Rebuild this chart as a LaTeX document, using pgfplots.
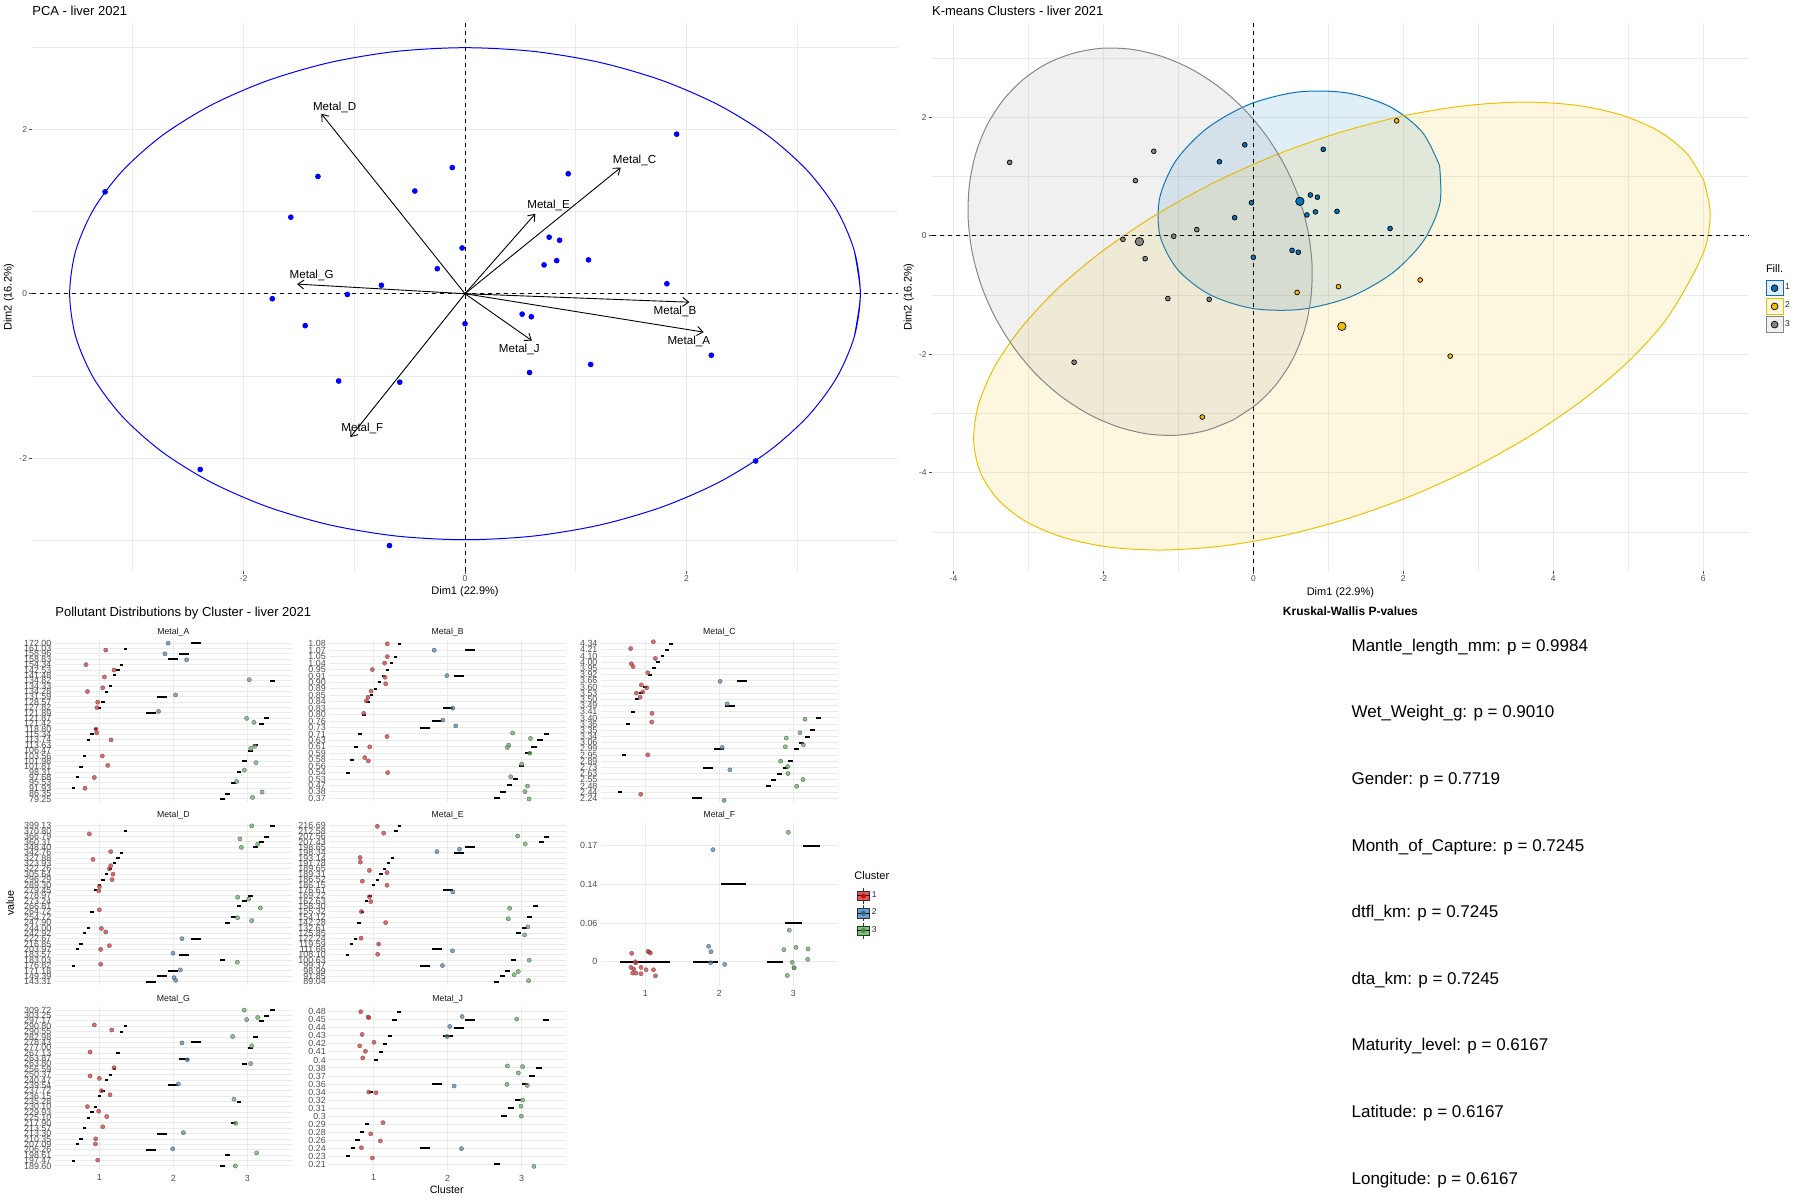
\documentclass[border=0pt]{standalone}
\usepackage{fontspec}
\setmainfont{Liberation Sans}
\usepackage{pgfplots}
\pgfplotsset{compat=1.18}
\usetikzlibrary{arrows.meta}
\newcommand{\fs}[1]{\fontsize{#1}{#1}\selectfont}
\definecolor{pcablue}{HTML}{0000FF}
\definecolor{kblue}{HTML}{0073C2}
\definecolor{kyellow}{HTML}{EFC000}
\definecolor{kgrey}{HTML}{868686}
\definecolor{sred}{HTML}{E41A1C}
\definecolor{sblue}{HTML}{377EB8}
\definecolor{sgreen}{HTML}{4DAF4A}
\definecolor{gridc}{HTML}{EBEBEB}
\definecolor{tickc}{HTML}{4D4D4D}
\tikzset{albl/.style={font=\fs{5.8}, inner sep=0pt},
  strip/.style={font=\fs{4.35}, text=black!90, inner sep=0pt},
  arr/.style={black, line width=0.45pt, -{Straight Barb[length=3pt,width=4.5pt]}}}
\pgfplotsset{
  /pgf/number format/assume math mode=true,
  base/.style={scale only axis, anchor=south west, axis line style={draw=none},
    major grid style={gridc, line width=0.5pt}, minor grid style={gridc, line width=0.3pt},
    ticklabel style={text=tickc}},
  big/.style={base, height=274pt, grid=both, tick pos=left, tick align=outside,
    major tick length=1.5pt, minor tick length=0pt, tick style={tickc, line width=0.4pt},
    ticklabel style={font=\fs{4.25}, inner sep=0.8pt}},
  facet/.style={base, width=118.35pt, height=81.15pt, xmin=0.4, xmax=3.6, ymin=0.4,
    xtick={1,2,3}, xticklabels={,,}, grid=major, major tick length=0pt, tick pos=left,
    yticklabel style={font=\fs{4.45}, inner sep=0pt, xshift=-1.6pt},
    xticklabel style={font=\fs{4.45}, inner sep=0pt, yshift=-2.6pt}},
  fpts/.style={scatter, only marks, mark=*, mark size=1.05pt, line width=0.2pt,
    scatter src=explicit symbolic,
    scatter/classes={1={draw=black!60, fill=sred, fill opacity=0.68},
                     2={draw=black!60, fill=sblue, fill opacity=0.68},
                     3={draw=black!60, fill=sgreen, fill opacity=0.68}}},
  fbar/.style={only marks, mark=*, mark size=0.1pt, mark options={draw opacity=0, fill opacity=0},
    error bars/x dir=both, error bars/x explicit,
    error bars/error mark=none, error bars/error bar style={line width=1pt, black}},
  kpts/.style={only marks, mark=*, mark size=1.2pt, forget plot, mark options={draw=black, line width=0.35pt, fill=#1}},
  kell/.style={#1, line width=0.5pt, fill=#1, fill opacity=0.12, smooth, forget plot},
}
\begin{document}
\begin{tikzpicture}
\useasboundingbox (0,0) rectangle (900pt,-600pt);

% ---------------- PCA ----------------
\begin{axis}[big, at={(16pt,-285.5pt)}, width=433pt,
  xmin=-3.91, xmax=3.91, ymin=-3.37, ymax=3.29,
  xtick={-2,0,2}, ytick={-2,0,2}, minor xtick={-3,-1,1,3}, minor ytick={-3,-1,1,3}]
\addplot[pcablue, line width=0.5pt, smooth] coordinates {(3.516,-0.519) (3.57,0) (3.516,0.519) (3.355,1.023) (3.092,1.495) (2.735,1.922) (2.295,2.290) (1.785,2.589) (1.221,2.810) (0.620,2.945) (0,2.99) (-0.620,2.945) (-1.221,2.810) (-1.785,2.589) (-2.295,2.290) (-2.735,1.922) (-3.092,1.495) (-3.355,1.023) (-3.516,0.519) (-3.57,0) (-3.516,-0.519) (-3.355,-1.023) (-3.092,-1.495) (-2.735,-1.922) (-2.295,-2.290) (-1.785,-2.589) (-1.221,-2.810) (-0.620,-2.945) (0,-2.99) (0.620,-2.945) (1.221,-2.810) (1.785,-2.589) (2.295,-2.290) (2.735,-1.922) (3.092,-1.495) (3.355,-1.023) (3.516,-0.519) (3.57,0) (3.516,0.519)};
\addplot[black, line width=0.5pt, dash pattern=on 2pt off 2pt] coordinates {(-3.91,0) (3.91,0)};
\addplot[black, line width=0.5pt, dash pattern=on 2pt off 2pt] coordinates {(0,-3.37) (0,3.29)};
\addplot[only marks, mark=*, mark size=1.2pt, pcablue] table {
x y
1.911 1.939
-3.25 1.238
-1.328 1.425
-0.115 1.533
-0.453 1.248
0.932 1.458
-1.573 0.930
0.760 0.687
0.854 0.650
-0.026 0.556
-0.25 0.304
0.714 0.350
0.828 0.402
1.115 0.411
1.823 0.121
-0.755 0.103
-1.0625 -0.009
-1.740 -0.061
-1.443 -0.388
0 -0.364
0.516 -0.248
0.599 -0.280
2.224 -0.748
1.135 -0.860
0.583 -0.958
-1.141 -1.061
-0.589 -1.075
2.625 -2.033
-2.391 -2.136
-0.682 -3.061
};
\addplot[arr] coordinates {(0,0) (-1.297,2.187)};
\addplot[arr] coordinates {(0,0) (1.406,1.533)};
\addplot[arr] coordinates {(0,0) (0.635,0.972)};
\addplot[arr] coordinates {(0,0) (-1.516,0.117)};
\addplot[arr] coordinates {(0,0) (2.026,-0.103)};
\addplot[arr] coordinates {(0,0) (2.156,-0.467)};
\addplot[arr] coordinates {(0,0) (0.604,-0.570)};
\addplot[arr] coordinates {(0,0) (-1.036,-1.743)};
\node[albl] at (axis cs:-1.177,2.266) {Metal\_D};
\node[albl] at (axis cs:1.531,1.621) {Metal\_C};
\node[albl] at (axis cs:0.755,1.070) {Metal\_E};
\node[albl] at (axis cs:-1.385,0.220) {Metal\_G};
\node[albl] at (axis cs:1.896,-0.220) {Metal\_B};
\node[albl] at (axis cs:2.021,-0.584) {Metal\_A};
\node[albl] at (axis cs:0.490,-0.673) {Metal\_J};
\node[albl] at (axis cs:-0.927,-1.636) {Metal\_F};
\end{axis}

% ---------------- K-means ----------------
\begin{axis}[big, at={(465.85pt,-285.5pt)}, width=408.65pt,
  xmin=-4.29, xmax=6.61, ymin=-5.66, ymax=3.59,
  xtick={-4,-2,0,2,4,6}, ytick={-4,-2,0,2}, minor xtick={-3,-1,1,3,5}, minor ytick={-5,-3,-1,1,3},
  legend style={at={(axis description cs:1.0203,0.531)}, anchor=north west, draw=none, fill=none,
    inner sep=0pt, outer sep=0pt, row sep=0.9pt, column sep=0pt, font=\fs{4.25},
    nodes={inner sep=0.8pt, text=black!85}}, legend cell align=left]
\addplot[kell=kblue] coordinates {(2.483,1.184) (2.488,0.547) (2.271,-0.084) (1.852,-0.633) (1.285,-1.037) (0.637,-1.243) (-0.012,-1.228) (-0.585,-0.993) (-1.013,-0.568) (-1.245,0.0) (-1.250,0.635) (-1.033,1.267) (-0.615,1.816) (-0.048,2.220) (0.600,2.426) (1.249,2.410) (1.823,2.176) (2.251,1.750) (2.483,1.184)};
\addplot[kell=kyellow] coordinates {(6.006,0.932) (6.093,0.397) (6.027,-0.199) (5.788,-0.833) (5.462,-1.488) (4.982,-2.147) (4.383,-2.782) (3.687,-3.383) (2.915,-3.927) (2.093,-4.399) (1.241,-4.782) (0.386,-5.066) (-0.443,-5.242) (-1.223,-5.306) (-1.930,-5.255) (-2.542,-5.090) (-3.042,-4.818) (-3.414,-4.444) (-3.645,-3.983) (-3.731,-3.448) (-3.666,-2.851) (-3.454,-2.218) (-3.101,-1.563) (-2.620,-0.904) (-2.022,-0.269) (-1.326,0.333) (-0.554,0.877) (0.269,1.348) (1.121,1.731) (1.975,2.015) (2.805,2.191) (3.585,2.255) (4.291,2.204) (4.903,2.039) (5.403,1.767) (5.776,1.394) (6.006,0.932)};
\addplot[kell=kgrey] coordinates {(-0.270,-3.110) (0.047,-2.841) (0.316,-2.492) (0.531,-2.068) (0.683,-1.583) (0.767,-1.056) (0.783,-0.497) (0.729,0.073) (0.608,0.637) (0.421,1.177) (0.176,1.681) (-0.119,2.130) (-0.457,2.510) (-0.828,2.813) (-1.219,3.025) (-1.619,3.145) (-2.016,3.164) (-2.396,3.081) (-2.751,2.907) (-3.068,2.639) (-3.337,2.289) (-3.552,1.865) (-3.704,1.380) (-3.788,0.853) (-3.804,0.294) (-3.751,-0.275) (-3.629,-0.840) (-3.443,-1.380) (-3.197,-1.883) (-2.903,-2.333) (-2.564,-2.713) (-2.193,-3.015) (-1.803,-3.228) (-1.403,-3.348) (-1.006,-3.367) (-0.617,-3.284) (-0.270,-3.110)};
\addplot[black, line width=0.5pt, dash pattern=on 2pt off 2pt, forget plot] coordinates {(-4.29,0) (6.61,0)};
\addplot[black, line width=0.5pt, dash pattern=on 2pt off 2pt, forget plot] coordinates {(0,-5.66) (0,3.59)};
\addplot[kpts=kblue] table {
x y
-0.115 1.533
-0.453 1.248
0.932 1.458
0.760 0.687
0.854 0.650
-0.026 0.556
-0.25 0.304
0.714 0.350
0.828 0.402
1.115 0.411
1.823 0.121
0 -0.364
0.516 -0.248
0.599 -0.280
};
\addplot[kpts=kyellow] table {
x y
1.911 1.939
2.224 -0.748
1.135 -0.860
0.583 -0.958
2.625 -2.033
-0.682 -3.061
};
\addplot[kpts=kgrey] table {
x y
-3.25 1.238
-1.328 1.425
-1.573 0.930
-0.755 0.103
-1.0625 -0.009
-1.740 -0.061
-1.443 -0.388
-1.141 -1.061
-0.589 -1.075
-2.391 -2.136
};
\addplot[kpts=kblue, mark size=2.1pt] coordinates {(0.62,0.58)};
\addplot[kpts=kyellow, mark size=2.1pt] coordinates {(1.18,-1.53)};
\addplot[kpts=kgrey, mark size=2.1pt] coordinates {(-1.52,-0.10)};
\addlegendimage{legend image code/.code={\draw[kblue, line width=0.5pt, fill=kblue!12] (0pt,-3.85pt) rectangle (8.5pt,3.85pt); \draw[black, line width=0.35pt, fill=kblue] (4.25pt,0pt) circle (1.7pt);}}
\addlegendentry{1}
\addlegendimage{legend image code/.code={\draw[kyellow, line width=0.5pt, fill=kyellow!12] (0pt,-3.85pt) rectangle (8.5pt,3.85pt); \draw[black, line width=0.35pt, fill=kyellow] (4.25pt,0pt) circle (1.7pt);}}
\addlegendentry{2}
\addlegendimage{legend image code/.code={\draw[kgrey, line width=0.5pt, fill=kgrey!12] (0pt,-3.85pt) rectangle (8.5pt,3.85pt); \draw[black, line width=0.35pt, fill=kgrey] (4.25pt,0pt) circle (1.7pt);}}
\addlegendentry{3}
\end{axis}

% ---------------- Metal_A ----------------
\begin{axis}[facet, at={(27.5pt,-401.1pt)}, ymax=30.6, ytick={1,...,30},
  yticklabels={79.25,86.35,91.93,95.53,97.68,98.31,101.81,101.98,103.56,106.47,113.63,113.74,115.34,118.80,121.42,121.87,121.89,127.82,128.57,131.59,134.28,134.33,134.82,141.48,142.53,154.34,158.83,158.96,161.03,172.00}]
\addplot[fbar] table[x=x,y=y,x error=e] {
x y e
0.65 3 0.0225
0.70 5 0.0225
0.75 7 0.0225
0.80 9 0.0225
0.85 12 0.0225
0.90 13 0.0225
0.95 14 0.0225
1.00 18 0.0225
1.05 19 0.0225
1.10 21 0.0225
1.15 22 0.0225
1.20 24 0.0225
1.25 25 0.0225
1.30 26 0.0225
1.35 29 0.0225
1.70 17 0.0675
1.85 20 0.0675
2.00 27 0.0675
2.15 28 0.0675
2.30 30 0.0675
2.6625 1 0.03375
2.7375 2 0.03375
2.8125 4 0.03375
2.8875 6 0.03375
2.9625 8 0.03375
3.0375 10 0.03375
3.1125 11 0.03375
3.1875 15 0.03375
3.2625 16 0.03375
3.3375 23 0.03375
};
\addplot[fpts] table[x=x,y=y,meta=c] {
x y c
1.93 30 2
1.086 28.7 1
1.887 28 2
2.18 26.9 2
0.82 26 1
1.198 25 1
1.068 23.7 1
3.027 23.2 3
1.045 21.7 1
0.838 21 1
2.03 20.37 2
0.977 19 1
0.968 18 1
1.80 17.3 2
2.99 16 3
3.09 15.25 3
0.955 14 1
0.964 13.3 1
1.158 12 1
3.10 10.8 3
3.045 10.4 3
1.04 9 1
3.117 7.75 3
1.113 7.25 1
2.96 6.37 3
0.932 5 1
2.856 4.25 3
0.806 3 1
3.20 2.3 3
3.07 1.3 3
};
\end{axis}

% ---------------- Metal_B ----------------
\begin{axis}[facet, at={(164.65pt,-401.1pt)}, ymax=25.6, ytick={1,...,25},
  yticklabels={0.37,0.38,0.47,0.53,0.54,0.56,0.58,0.59,0.61,0.63,0.71,0.73,0.76,0.80,0.83,0.84,0.85,0.89,0.90,0.91,0.95,1.04,1.05,1.07,1.08}]
\addplot[fbar] table[x=x,y=y,x error=e] {
x y e
0.6518 5 0.0241
0.7054 7 0.0241
0.7589 9 0.0241
0.8125 11 0.0241
0.8661 14 0.0241
0.9196 16 0.0241
0.9732 17 0.0241
1.0268 18 0.0241
1.0804 19 0.0241
1.1339 20 0.0241
1.1875 21 0.0241
1.2411 22 0.0241
1.2946 23 0.0241
1.3482 25 0.0241
1.70 12 0.0675
1.85 13 0.0675
2.00 15 0.0675
2.15 20 0.0675
2.30 24 0.0675
2.6667 1 0.0375
2.75 2 0.0375
2.8333 3 0.0375
2.9167 4 0.0375
3.0 6 0.0375
3.0833 8 0.0375
3.1667 9 0.0375
3.25 10 0.0375
3.3333 11 0.0375
};
\addplot[fpts] table[x=x,y=y,meta=c] {
x y c
1.184 25 1
1.818 24 2
1.184 23 1
1.148 22 1
0.982 21 1
1.989 20.05 2
1.153 19.8 1
1.162 18.8 1
0.964 17.65 1
0.924 16.7 1
0.901 16.15 1
2.07 15 2
0.865 14.2 1
1.935 13.15 2
2.11 12.25 2
2.879 11.15 3
1.18 10.6 1
3.12 10.3 3
2.825 9.25 3
2.807 8.9 3
0.946 9 1
3.11 8 3
0.879 7.33 1
0.928 6.82 1
3.0 6.3 3
1.189 5 1
2.852 4.35 3
3.08 2.9 3
3.045 2.05 3
3.10 0.9 3
};
\end{axis}

% ---------------- Metal_C ----------------
\begin{axis}[facet, at={(300.5pt,-401.1pt)}, ymax=26.6, ytick={1,...,26},
  yticklabels={2.24,2.44,2.48,2.55,2.63,2.73,2.89,2.95,2.99,3.06,3.34,3.35,3.36,3.40,3.41,3.49,3.50,3.53,3.60,3.66,3.92,3.95,4.00,4.10,4.21,4.34}]
\addplot[fbar] table[x=x,y=y,x error=e] {
x y e
0.6538 2 0.026
0.7115 8 0.026
0.7692 13 0.026
0.8269 15 0.026
0.8846 17 0.026
0.9423 18 0.026
1.0 19 0.026
1.0577 21 0.026
1.1154 22 0.026
1.1731 23 0.026
1.2308 24 0.026
1.2885 25 0.026
1.3462 26 0.026
1.70 1 0.0675
1.85 6 0.0675
2.00 9 0.0675
2.15 16 0.0675
2.30 20 0.0675
2.6625 3 0.03375
2.7375 4 0.03375
2.8125 5 0.03375
2.8875 6 0.03375
2.9625 7 0.03375
3.0375 9 0.03375
3.1125 10 0.03375
3.1875 11 0.03375
3.2625 12 0.03375
3.3375 14 0.03375
};
\addplot[fpts] table[x=x,y=y,meta=c] {
x y c
1.108 26.3 1
0.801 25.2 1
1.135 23.6 1
0.81 22.75 1
0.833 22.3 1
1.032 21.3 1
2.011 19.9 2
0.946 19.35 1
1.018 18.87 1
0.964 18.2 1
0.878 18.0 1
0.928 17.35 1
2.106 16.27 2
1.09 14.75 1
3.158 13.8 3
1.086 13.35 1
3.09 11.62 3
2.905 10.76 3
3.135 9.68 3
2.038 9.24 2
2.892 9.35 3
1.032 8.05 1
2.828 7.03 3
2.923 6.16 3
2.142 5.62 2
2.928 5.03 3
3.131 4.05 3
3.045 2.97 3
0.937 1.68 1
2.065 0.7 2
};
\end{axis}

% ---------------- Metal_D ----------------
\begin{axis}[facet, at={(27.5pt,-492.45pt)}, ymax=30.6, ytick={1,...,30},
  yticklabels={143.31,149.39,171.18,176.82,183.03,183.57,203.97,216.85,222.67,242.92,244.00,247.90,254.72,264.72,266.81,273.24,278.97,279.45,289.30,296.29,305.64,322.26,323.93,327.88,342.76,348.40,360.31,366.79,370.80,399.13}]
\addplot[fbar] table[x=x,y=y,x error=e] {
x y e
0.65 4 0.0225
0.70 7 0.0225
0.75 8 0.0225
0.80 10 0.0225
0.85 11 0.0225
0.90 14 0.0225
0.95 18 0.0225
1.00 19 0.0225
1.05 20 0.0225
1.10 21 0.0225
1.15 22 0.0225
1.20 23 0.0225
1.25 24 0.0225
1.30 25 0.0225
1.35 29 0.0225
1.70 1 0.0675
1.85 2 0.0675
2.00 3 0.0675
2.15 6 0.0675
2.30 9 0.0675
2.6625 5 0.03375
2.7375 12 0.03375
2.8125 13 0.03375
2.8875 15 0.03375
2.9625 16 0.03375
3.0375 17 0.03375
3.1125 26 0.03375
3.1875 27 0.03375
3.2625 28 0.03375
3.3375 30 0.03375
};
\addplot[fpts] table[x=x,y=y,meta=c] {
x y c
3.059 30 3
0.865 28.5 1
2.90 27.57 3
3.14 26.57 3
2.919 26 3
1.153 25.2 1
0.914 23.75 1
1.153 22.57 1
1.135 22 1
1.185 21 1
1.171 20 1
1.0 18.7 1
0.991 17.9 1
2.869 16.7 3
3.018 16.37 3
3.176 14.72 3
1.0 14.37 1
2.869 12.9 3
3.059 12.37 3
1.027 10.9 1
1.086 10.25 1
2.117 9 2
1.135 7.7 1
1.018 7 1
1.995 6.3 2
2.865 4.63 3
1.018 4.25 1
2.095 3.2 2
2.009 1.75 2
2.032 1.25 2
};
\end{axis}

% ---------------- Metal_E ----------------
\begin{axis}[facet, at={(164.65pt,-492.45pt)}, ymax=30.6, ytick={1,...,30},
  yticklabels={89.04,91.85,98.99,99.37,100.63,108.10,111.66,119.59,122.24,125.85,132.61,142.28,154.12,155.32,158.30,162.63,169.22,176.61,186.15,186.52,189.31,189.65,191.78,193.14,198.34,198.65,207.43,207.56,212.58,216.69}]
\addplot[fbar] table[x=x,y=y,x error=e] {
x y e
0.65 6 0.0225
0.70 8 0.0225
0.75 9 0.0225
0.80 12 0.0225
0.85 14 0.0225
0.90 16 0.0225
0.95 17 0.0225
1.00 19 0.0225
1.05 20 0.0225
1.10 21 0.0225
1.15 22 0.0225
1.20 23 0.0225
1.25 24 0.0225
1.30 29 0.0225
1.35 30 0.0225
1.70 4 0.0675
1.85 7 0.0675
2.00 18 0.0675
2.15 25 0.0675
2.30 26 0.0675
2.6625 1 0.03375
2.7375 2 0.03375
2.8125 3 0.03375
2.8875 5 0.03375
2.9625 10 0.03375
3.0375 11 0.03375
3.1125 13 0.03375
3.1875 15 0.03375
3.2625 27 0.03375
3.3375 28 0.03375
};
\addplot[fpts] table[x=x,y=y,meta=c] {
x y c
1.049 29.9 1
1.135 28.63 1
2.946 28.1 3
3.049 26.63 3
2.16 25.63 2
1.854 25.2 2
0.816 24.1 1
0.82 23.25 1
0.942 21.7 1
1.18 21.3 1
0.847 19.7 1
1.18 18.95 1
2.07 17.7 2
0.942 16.8 1
0.96 15.9 1
2.838 14.66 3
0.834 14.05 1
2.82 12.7 3
1.162 12 1
3.085 11.2 3
3.04 9.7 3
0.829 9.1 1
1.067 8 1
2.065 6.75 2
1.054 6.1 1
3.103 5 3
1.93 4 2
2.955 2.9 3
2.90 2.3 3
3.094 1.2 3
};
\end{axis}

% ---------------- Metal_F ----------------
\begin{axis}[facet, at={(300.5pt,-492.45pt)}, ymax=4.6, ytick={1,2,3,4},
  yticklabels={0,0.06,0.14,0.17}, xticklabels={1,2,3},
  legend style={at={(axis description cs:1.0803,0.5996)}, anchor=north west, draw=none, fill=none,
    inner sep=0pt, outer sep=0pt, row sep=0.3pt, column sep=0pt, font=\fs{4.25},
    nodes={inner sep=0.9pt, text=black!85}}, legend cell align=left]
\addplot[fbar, forget plot] table[x=x,y=y,x error=e] {
x y e
1.0 1 0.3375
1.8125 1 0.169
2.1875 3 0.169
2.75 1 0.1125
3.0 2 0.1125
3.25 4 0.1125
};
\addplot[fpts, forget plot] table[x=x,y=y,meta=c] {
x y c
0.814 1.217 1
0.864 1.0 1
0.87 0.97 1
1.036 1.269 1
1.068 1.225 1
1.05 1.25 1
0.805 0.853 1
0.842 0.809 1
0.941 0.853 1
0.828 0.705 1
0.873 0.705 1
0.941 0.688 1
1.009 0.792 1
1.109 0.792 1
1.136 0.636 1
1.914 3.90 2
1.855 1.399 2
1.887 1.26 2
1.882 0.974 2
2.072 0.931 2
2.932 4.348 3
2.946 1.815 3
2.873 1.312 3
3.036 1.373 3
3.199 1.33 3
3.195 1.061 3
2.986 0.983 3
3.009 0.844 3
3.012 0.84 3
2.919 0.644 3
};
\addlegendimage{legend image code/.code={\draw[black!80, line width=0.35pt] (3.1pt,-4pt)--(3.1pt,4pt); \draw[black!80, line width=0.35pt, fill=sred!75] (0pt,-2.3pt) rectangle (6.2pt,2.3pt); \draw[black, line width=0.5pt] (0pt,0pt)--(6.2pt,0pt); \fill[sred!80!black] (3.1pt,0pt) circle (1pt);}}
\addlegendentry{1}
\addlegendimage{legend image code/.code={\draw[black!80, line width=0.35pt] (3.1pt,-4pt)--(3.1pt,4pt); \draw[black!80, line width=0.35pt, fill=sblue!75] (0pt,-2.3pt) rectangle (6.2pt,2.3pt); \draw[black, line width=0.5pt] (0pt,0pt)--(6.2pt,0pt); \fill[sblue!80!black] (3.1pt,0pt) circle (1pt);}}
\addlegendentry{2}
\addlegendimage{legend image code/.code={\draw[black!80, line width=0.35pt] (3.1pt,-4pt)--(3.1pt,4pt); \draw[black!80, line width=0.35pt, fill=sgreen!75] (0pt,-2.3pt) rectangle (6.2pt,2.3pt); \draw[black, line width=0.5pt] (0pt,0pt)--(6.2pt,0pt); \fill[sgreen!80!black] (3.1pt,0pt) circle (1pt);}}
\addlegendentry{3}
\end{axis}

% ---------------- Metal_G ----------------
\begin{axis}[facet, at={(27.5pt,-584.6pt)}, ymax=30.6, ytick={1,...,30}, xticklabels={1,2,3},
  yticklabels={189.60,197.47,198.61,206.26,207.09,210.35,213.30,213.57,217.90,225.10,229.93,230.10,235.28,236.15,237.72,239.54,240.47,250.37,256.59,263.80,263.87,267.13,277.00,278.43,282.98,290.55,290.80,297.17,303.25,309.72}]
\addplot[fbar] table[x=x,y=y,x error=e] {
x y e
0.65 2 0.0225
0.70 5 0.0225
0.75 6 0.0225
0.80 8 0.0225
0.85 10 0.0225
0.90 11 0.0225
0.95 12 0.0225
1.00 14 0.0225
1.05 15 0.0225
1.10 17 0.0225
1.15 18 0.0225
1.20 19 0.0225
1.25 22 0.0225
1.30 26 0.0225
1.35 27 0.0225
1.70 4 0.0675
1.85 7 0.0675
2.00 16 0.0675
2.15 21 0.0675
2.30 24 0.0675
2.6625 1 0.03375
2.7375 3 0.03375
2.8125 9 0.03375
2.8875 13 0.03375
2.9625 20 0.03375
3.0375 23 0.03375
3.1125 25 0.03375
3.1875 28 0.03375
3.2625 29 0.03375
3.3375 30 0.03375
};
\addplot[fpts] table[x=x,y=y,meta=c] {
x y c
2.959 30 3
3.14 28.63 3
2.991 28.25 3
0.932 27.25 1
1.167 26.3 1
2.802 25.1 3
2.117 23.9 2
3.059 23.37 3
0.874 22.2 1
2.189 20.75 2
3.045 20.05 3
1.198 19.3 1
0.874 17.75 1
1.0 17.3 1
2.068 16.25 2
1.027 15 1
1.144 14.25 1
2.82 13.43 3
0.838 12.05 1
0.991 11.2 1
1.099 10.2 1
2.842 8.95 3
1.045 8.3 1
2.135 7.2 2
0.95 6.05 1
0.946 5.1 1
1.991 4.2 2
3.126 3.43 3
0.977 2.1 1
2.838 1 3
};
\end{axis}

% ---------------- Metal_J ----------------
\begin{axis}[facet, at={(164.65pt,-584.6pt)}, ymax=20.6, ytick={1,...,20}, xticklabels={1,2,3},
  yticklabels={0.21,0.23,0.24,0.26,0.28,0.29,0.3,0.31,0.32,0.34,0.36,0.37,0.38,0.4,0.41,0.42,0.43,0.44,0.45,0.48}]
\addplot[fbar] table[x=x,y=y,x error=e] {
x y e
0.65625 2 0.028
0.71875 3 0.028
0.78125 4 0.028
0.84375 5 0.028
0.90625 6 0.028
0.96875 10 0.028
1.03125 14 0.028
1.09375 15 0.028
1.15625 16 0.028
1.21875 17 0.028
1.28125 19 0.028
1.34375 20 0.028
1.70 3 0.0675
1.85 11 0.0675
2.00 17 0.0675
2.15 18 0.0675
2.30 19 0.0675
2.6719 1 0.042
2.7656 7 0.042
2.8594 8 0.042
2.9531 9 0.042
3.0469 11 0.042
3.1406 12 0.042
3.2344 13 0.042
3.3281 19 0.042
};
\addplot[fpts] table[x=x,y=y,meta=c] {
x y c
0.825 20 1
0.924 19.34 1
0.935 19.28 1
2.196 19.4 2
2.933 19.08 3
2.029 18.17 2
0.843 17.17 1
1.993 16.92 2
1.004 16.2 1
0.811 15.75 1
0.888 15.08 1
0.852 14.25 1
2.807 13.25 3
3.013 13.17 3
2.955 12.38 3
2.088 10.75 2
2.802 10.96 3
3.076 10.83 3
0.933 10 1
1.031 9.92 1
3.013 9 3
2.991 8.25 3
2.996 7 3
1.126 6.2 1
0.96 4.8 1
1.09 3.92 1
0.834 3.08 1
2.187 2.96 2
0.982 1.8 1
3.166 0.75 3
};
\end{axis}

% ---------------- texts ----------------
\node[anchor=base west, inner sep=0pt, font=\fs{6.5}] at (16pt,-7.65pt) {PCA - liver 2021};
\node[anchor=base west, inner sep=0pt, font=\fs{6.5}] at (465.85pt,-7.65pt) {K-means Clusters - liver 2021};
\node[inner sep=0pt, font=\fs{5.5}] at (232.5pt,-296pt) {Dim1 (22.9\%)};
\node[inner sep=0pt, font=\fs{5.5}, rotate=90] at (4.35pt,-148.5pt) {Dim2 (16.2\%)};
\node[inner sep=0pt, font=\fs{5.5}] at (670.2pt,-296.15pt) {Dim1 (22.9\%)};
\node[inner sep=0pt, font=\fs{5.5}, rotate=90] at (454.35pt,-148.5pt) {Dim2 (16.2\%)};
\node[anchor=west, inner sep=0pt, font=\fs{5.5}] at (882.8pt,-134.5pt) {Fill.};
\node[anchor=base west, inner sep=0pt, font=\fs{6.5}] at (27.5pt,-308.2pt) {Pollutant Distributions by Cluster - liver 2021};
\node[strip] at (86.68pt,-316pt) {Metal\_A};
\node[strip] at (223.83pt,-316pt) {Metal\_B};
\node[strip] at (359.68pt,-316pt) {Metal\_C};
\node[strip] at (86.68pt,-407.65pt) {Metal\_D};
\node[strip] at (223.83pt,-407.65pt) {Metal\_E};
\node[strip] at (359.68pt,-407.65pt) {Metal\_F};
\node[strip] at (86.68pt,-499.65pt) {Metal\_G};
\node[strip] at (223.83pt,-499.65pt) {Metal\_J};
\node[inner sep=0pt, font=\fs{5.35}, rotate=90] at (5pt,-451.5pt) {value};
\node[inner sep=0pt, font=\fs{5.35}] at (223.35pt,-594.65pt) {Cluster};
\node[anchor=west, inner sep=0pt, font=\fs{5.5}] at (427pt,-438pt) {Cluster};
\node[anchor=base, inner sep=0pt, font=\bfseries\fs{6}] at (675.2pt,-307.5pt) {Kruskal-Wallis P-values};
\node[anchor=base west, inner sep=0pt, font=\fs{8.5}] at (675.6pt,-325.6pt) {Mantle\_length\_mm: p = 0.9984};
\node[anchor=base west, inner sep=0pt, font=\fs{8.5}] at (675.6pt,-358.9pt) {Wet\_Weight\_g: p = 0.9010};
\node[anchor=base west, inner sep=0pt, font=\fs{8.5}] at (675.6pt,-392.0pt) {Gender: p = 0.7719};
\node[anchor=base west, inner sep=0pt, font=\fs{8.5}] at (675.6pt,-425.8pt) {Month\_of\_Capture: p = 0.7245};
\node[anchor=base west, inner sep=0pt, font=\fs{8.5}] at (675.6pt,-458.9pt) {dtfl\_km: p = 0.7245};
\node[anchor=base west, inner sep=0pt, font=\fs{8.5}] at (675.6pt,-492.0pt) {dta\_km: p = 0.7245};
\node[anchor=base west, inner sep=0pt, font=\fs{8.5}] at (675.6pt,-525.25pt) {Maturity\_level: p = 0.6167};
\node[anchor=base west, inner sep=0pt, font=\fs{8.5}] at (675.6pt,-558.9pt) {Latitude: p = 0.6167};
\node[anchor=base west, inner sep=0pt, font=\fs{8.5}] at (675.6pt,-592.0pt) {Longitude: p = 0.6167};
\end{tikzpicture}
\end{document}
